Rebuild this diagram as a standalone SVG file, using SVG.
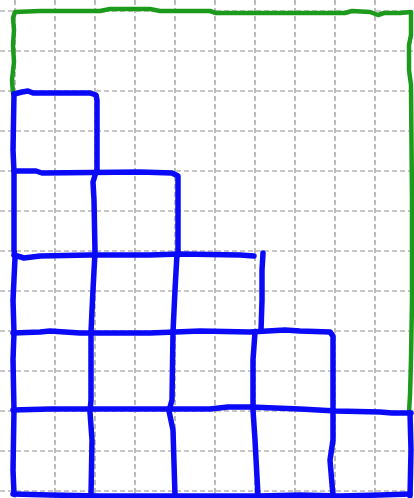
<svg xmlns="http://www.w3.org/2000/svg" width="414" height="498" viewBox="0 0 414 498">
<style>
.grid line{stroke:#8f8f8f;stroke-width:1.2;stroke-dasharray:5 3}
.blue{fill:none;stroke:#0a0af8;stroke-width:5.5;stroke-linecap:round;stroke-linejoin:round}
.green{fill:none;stroke:#1c9a1c;stroke-width:4.5;stroke-linecap:round;stroke-linejoin:round}
</style>
<rect width="414" height="498" fill="#ffffff"/>
<g id="grid" class="grid">
<line x1="15" y1="0" x2="15" y2="498"/><line x1="55" y1="0" x2="55" y2="498"/><line x1="95" y1="0" x2="95" y2="498"/><line x1="135" y1="0" x2="135" y2="498"/><line x1="175" y1="0" x2="175" y2="498"/><line x1="215" y1="0" x2="215" y2="498"/><line x1="255" y1="0" x2="255" y2="498"/><line x1="295" y1="0" x2="295" y2="498"/><line x1="335" y1="0" x2="335" y2="498"/><line x1="375" y1="0" x2="375" y2="498"/>
<line x1="0" y1="11" x2="414" y2="11"/><line x1="0" y1="51" x2="414" y2="51"/><line x1="0" y1="91" x2="414" y2="91"/><line x1="0" y1="131" x2="414" y2="131"/><line x1="0" y1="171" x2="414" y2="171"/><line x1="0" y1="211" x2="414" y2="211"/><line x1="0" y1="251" x2="414" y2="251"/><line x1="0" y1="291" x2="414" y2="291"/><line x1="0" y1="331" x2="414" y2="331"/><line x1="0" y1="371" x2="414" y2="371"/><line x1="0" y1="411" x2="414" y2="411"/><line x1="0" y1="451" x2="414" y2="451"/><line x1="0" y1="491" x2="414" y2="491"/>
</g>
<g id="outline">
<path class="green" d="M13,93 L12,80 L14,62 L13,45 L14,30 L13,18 L15,12 L40,11 L100,11 L110,9 L150,9 L160,11 L210,11 L216,13 L290,13 L345,13 L352,11 L370,12 L378,15 L384,13 L400,13 L411,12 L411,35 L409,45 L409,70 L411,85 L412,200 L412,300 L411,360 L410,395 L409,413"/>
</g>
<g id="staircase">
<path class="blue" d="M14,94 L13,150 L14,172 L14,250 L15,258 L13,300 L14,333 L13,360 L14,410 L13,470 L14,494"/>
<path class="blue" d="M14,94 L22,92 L28,91 L33,93 L90,93 L96,95 L97,100 L97,172"/>
<path class="blue" d="M14,171 L36,171 L42,173 L140,172 L172,173 L178,176 L178,255"/>
<path class="blue" d="M96,172 L93,182 L94,200 L95,252 L93,290 L91,332 L91,400 L90,412 L92,440 L91,496"/>
<path class="blue" d="M14,255 L24,258 L40,256 L90,255 L150,255 L180,254 L240,255 L254,256"/>
<path class="blue" d="M263,253 L262,270 L262,300 L261,331"/>
<path class="blue" d="M177,254 L175,290 L173,332 L172,400 L169,411 L173,430 L175,496"/>
<path class="blue" d="M13,333 L40,332 L50,331 L80,333 L150,333 L175,332 L200,331 L250,332 L285,330 L300,331 L330,332 L333,336 L333,411"/>
<path class="blue" d="M255,332 L253,360 L253,410 L255,440 L258,496"/>
<path class="blue" d="M13,410 L50,409 L100,409 L160,409 L210,409 L228,407 L250,407 L300,409 L336,411 L380,412 L392,413 L411,413"/>
<path class="blue" d="M333,412 L333,440 L330,460 L333,496"/>
<path class="blue" d="M410,413 L411,450 L410,496"/>
<path class="blue" d="M13,494 L50,495 L100,496 L200,496 L260,496 L300,495 L340,496 L380,495 L410,494"/>
</g>
</svg>
